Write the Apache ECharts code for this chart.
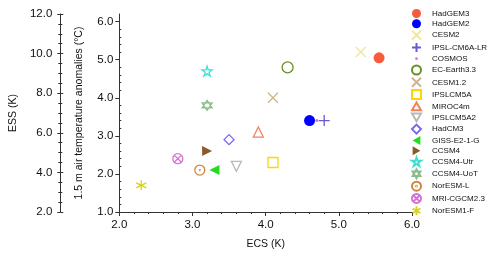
<!DOCTYPE html>
<html><head><meta charset="utf-8">
<script src="https://cdn.jsdelivr.net/npm/echarts@6/dist/echarts.min.js"></script>
<style>html,body{margin:0;padding:0;background:#fff}#c{width:500px;height:257px}</style>
</head><body><div id="c"></div>
<script>
const models = ['HadGEM3','HadGEM2','CESM2','IPSL-CM6A-LR','COSMOS','EC-Earth3.3','CESM1.2','IPSLCM5A','MIROC4m','IPSLCM5A2','HadCM3','GISS-E2-1-G','CCSM4','CCSM4-Utr','CCSM4-UoT','NorESM-L','MRI-CGCM2.3','NorESM1-F'];
const ecs = [5.55, 4.6, 5.3, 4.8, 4.7, 4.3, 4.1, 4.1, 3.9, 3.6, 3.5, 3.3, 3.2, 3.2, 3.2, 3.1, 2.8, 2.3];
const tas = [5.05, 3.4, 5.2, 3.4, 3.4, 4.8, 4.0, 2.3, 3.1, 2.2, 2.9, 2.1, 2.6, 4.7, 3.8, 2.1, 2.4, 1.7];
const xTicks = [2, 3, 4, 5, 6];
const tasTicks = [1, 2, 3, 4, 5, 6];
const essTicks = [2, 4, 6, 8, 10, 12];

const colors = ['#F85A3E','#0000FF','#EEE6A0','#6A5ACD','#DA70D6','#6B8E23','#D2B48C','#FFD700','#F4805A','#B8B8B8','#7B68EE','#22DD22','#8B5A2B','#40E0D0','#8FBC8F','#CD853F','#DA70D6','#D6D320'];
const P = {
  cross: 'path://M0,0L10,10M10,0L0,10',
  plus: 'path://M5,0L5,10M0,5L10,5',
  aster: 'path://M5,0L5,10M0.67,2.5L9.33,7.5M0.67,7.5L9.33,2.5',
  star: 'path://M10,0L12.25,6.91L19.51,6.91L13.63,11.18L15.88,18.09L10,13.82L4.12,18.09L6.37,11.18L0.49,6.91L7.75,6.91Z',
  hexa: 'path://M10,0L18.66,15L1.34,15ZM10,20L1.34,5L18.66,5Z',
  cdot: 'path://M0,10A10,10,0,1,1,20,10A10,10,0,1,1,0,10ZM9.2,10A0.8,0.8,0,1,1,10.8,10A0.8,0.8,0,1,1,9.2,10Z',
  cx: 'path://M0,10A10,10,0,1,1,20,10A10,10,0,1,1,0,10ZM2.93,2.93L17.07,17.07M17.07,2.93L2.93,17.07',
  dot: 'path://M0,0M10,10M3.5,5A1.5,1.5,0,1,1,6.5,5A1.5,1.5,0,1,1,3.5,5Z',
  triUp: 'path://M5,0L10,8.66L0,8.66Z',
  triDown: 'path://M0,0L10,0L5,8.66Z',
  triLeft: 'path://M8.66,0L8.66,10L0,5Z',
  triRight: 'path://M0,0L0,10L8.66,5Z'
};
// symbol, size, filled
const sym = [
  ['circle',11,true],['circle',11,true],[P.cross,10,false],[P.plus,11,false],[P.dot,10,true],
  ['circle',11,false],[P.cross,10,false],['rect',10,false],[P.triUp,10,false],[P.triDown,10,false],
  ['diamond',10,false],[P.triLeft,10,true],[P.triRight,10,true],[P.star,10,false],[P.hexa,10,false],
  [P.cdot,10,false],[P.cx,10,false],[P.aster,10,false]
];

const series = models.map((m, i) => {
  const s = sym[i];
  return {
    name: m, type: 'scatter', xAxisIndex: 0, yAxisIndex: 0,
    symbol: s[0], symbolSize: s[1],
    itemStyle: s[2] ? {color: colors[i], borderWidth: 0, opacity: 1}
                    : {color: 'transparent', borderColor: colors[i], borderWidth: 1.3, opacity: 1},
    emphasis: {disabled: true},
    z: i === 4 ? 5 : 2,
    data: [[ecs[i], tas[i]]]
  };
});

const axisLineStyle = {color: '#333', width: 1};
const lab = {color: '#111', fontSize: 11.5, fontFamily: 'Liberation Sans, Arial, sans-serif'};
const nameStyle = {color: '#111', fontSize: 10.5, fontFamily: 'Liberation Sans, Arial, sans-serif'};
const f1 = v => (Math.abs(v - Math.round(v)) < 1e-6 ? v.toFixed(1) : '');

const chart = echarts.init(document.getElementById('c'), null, {renderer: 'canvas'});
chart.setOption({
  animation: false,
  backgroundColor: '#fff',
  grid: {left: 112, right: 88, top: 14, bottom: 45, containLabel: false},
  xAxis: [{
    type: 'value', min: xTicks[0], max: xTicks[xTicks.length - 1], interval: 1,
    name: 'ECS (K)', nameLocation: 'middle', nameGap: 27, nameTextStyle: nameStyle,
    axisLine: {show: true, lineStyle: axisLineStyle},
    axisTick: {show: true, length: 4, lineStyle: axisLineStyle},
    minorTick: {show: true, splitNumber: 5, length: 2, lineStyle: axisLineStyle},
    axisLabel: Object.assign({margin: 7, formatter: f1, showMaxLabel: true, showMinLabel: true}, lab),
    splitLine: {show: false}
  }],
  yAxis: [{
    type: 'value', min: tasTicks[0], max: 6.2, interval: 1, position: 'left',
    name: '1.5 m air temperature anomalies (°C)', nameLocation: 'middle', nameGap: 35, nameTextStyle: nameStyle,
    axisLine: {show: true, onZero: false, lineStyle: axisLineStyle},
    axisTick: {show: true, length: 4, customValues: tasTicks, lineStyle: axisLineStyle},
    minorTick: {show: false},
    axisLabel: Object.assign({margin: 6, formatter: f1, customValues: tasTicks}, lab),
    splitLine: {show: false}
  }, {
    type: 'value', min: tasTicks[0], max: 6.2, interval: 1, position: 'left',
    axisLine: {show: false},
    axisTick: {show: false, inside: true},
    minorTick: {show: true, splitNumber: 5, length: 2, lineStyle: axisLineStyle},
    axisLabel: {show: false},
    splitLine: {show: false}
  }, {
    type: 'value', min: essTicks[0], max: essTicks[essTicks.length - 1], interval: 2, position: 'left', offset: 59,
    name: 'ESS (K)', nameLocation: 'middle', nameGap: 36, nameTextStyle: nameStyle,
    axisLine: {show: true, onZero: false, lineStyle: axisLineStyle},
    axisTick: {show: true, length: 3, lineStyle: axisLineStyle},
    minorTick: {show: true, splitNumber: 4, length: 2, lineStyle: axisLineStyle},
    axisLabel: Object.assign({margin: 8, formatter: f1}, lab),
    splitLine: {show: false}
  }, {
    type: 'value', min: essTicks[0], max: essTicks[essTicks.length - 1], interval: 2, position: 'left', offset: 59,
    axisLine: {show: false},
    axisTick: {show: true, inside: true, length: 3, lineStyle: axisLineStyle},
    minorTick: {show: true, splitNumber: 4, length: 2, lineStyle: axisLineStyle},
    axisLabel: {show: false},
    splitLine: {show: false}
  }],
  legend: {
    orient: 'vertical', left: 411, top: 9, padding: 0, itemWidth: 9, itemHeight: 9, itemGap: 1.3,
    selectedMode: false,
    textStyle: {fontSize: 8, lineHeight: 9, color: '#111', padding: [0, 0, 0, 6], fontFamily: 'Liberation Sans, Arial, sans-serif'},
    data: models
  },
  series: series
});
</script></body></html>
